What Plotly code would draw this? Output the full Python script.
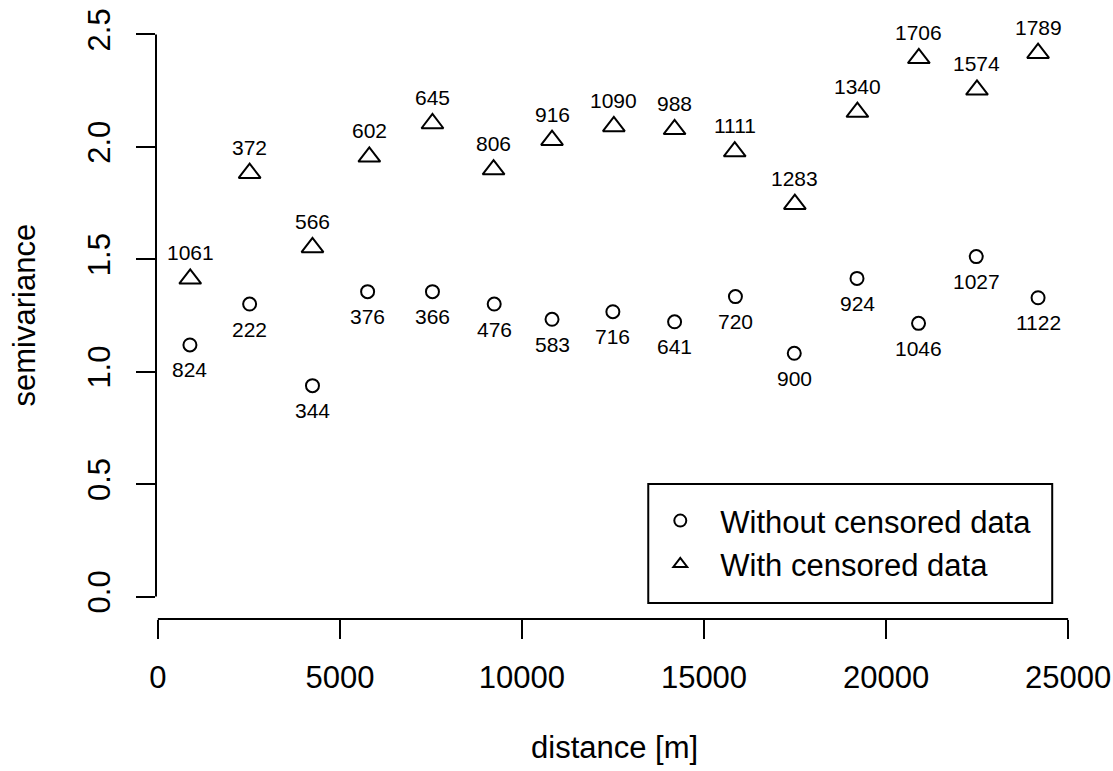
import plotly.graph_objects as go

# Empirical semivariogram: mean lag distance (m), semivariance and number of point pairs per bin
dist_without = [881, 2521, 4247, 5761, 7542, 9238, 10826, 12497, 14192, 15863, 17479, 19202, 20892, 22477, 24175]
gamma_without = [1.119, 1.301, 0.938, 1.356, 1.356, 1.301, 1.233, 1.267, 1.222, 1.334, 1.082, 1.415, 1.215, 1.512, 1.329]
npairs_without = [824, 222, 344, 376, 366, 476, 583, 716, 641, 720, 900, 924, 1046, 1027, 1122]

dist_with = [889, 2521, 4247, 5808, 7542, 9221, 10826, 12524, 14192, 15844, 17495, 19213, 20900, 22497, 24175]
gamma_with = [1.413, 1.883, 1.553, 1.956, 2.104, 1.899, 2.030, 2.091, 2.078, 1.979, 1.745, 2.155, 2.394, 2.254, 2.417]
npairs_with = [1061, 372, 566, 602, 645, 806, 916, 1090, 988, 1111, 1283, 1340, 1706, 1574, 1789]

x_ticks = [0, 5000, 10000, 15000, 20000, 25000]
x_tick_labels = ["0", "5000", "10000", "15000", "20000", "25000"]
y_ticks = [0.0, 0.5, 1.0, 1.5, 2.0, 2.5]
y_tick_labels = ["0.0", "0.5", "1.0", "1.5", "2.0", "2.5"]

FONT = "Liberation Sans, Arial, Helvetica, sans-serif"
BASE = 31
SMALL = 21

# axis limits with a 4 % extension on each side
all_x = dist_without + dist_with
x_lo, x_hi = min(all_x), max(all_x)
x_pad = 0.04 * (x_hi - x_lo)
y_lo, y_hi = y_ticks[0], y_ticks[-1]
y_pad = 0.04 * (y_hi - y_lo)

fig = go.Figure()

fig.add_trace(go.Scatter(
    x=dist_without, y=gamma_without, mode="markers",
    name="Without censored data",
    marker=dict(symbol="circle-open", size=13, color="black", line=dict(width=2, color="black")),
    cliponaxis=False,
))
fig.add_trace(go.Scatter(
    x=dist_with, y=gamma_with, mode="markers",
    name="With censored data",
    marker=dict(symbol="triangle-up-open", size=19, color="black", line=dict(width=2, color="black")),
    cliponaxis=False,
))

annotations = []
for xv, yv, n in zip(dist_without, gamma_without, npairs_without):
    annotations.append(dict(x=xv, y=yv, xref="x", yref="y", text=str(n), showarrow=False,
                            yshift=-25, font=dict(family=FONT, size=SMALL, color="black")))
for xv, yv, n in zip(dist_with, gamma_with, npairs_with):
    annotations.append(dict(x=xv, y=yv, xref="x", yref="y", text=str(n), showarrow=False,
                            yshift=26, font=dict(family=FONT, size=SMALL, color="black")))

# axis titles
annotations.append(dict(x=0.5, y=0, xref="paper", yref="paper", text="distance [m]", showarrow=False,
                        xanchor="center", yanchor="middle", yshift=-128,
                        font=dict(family=FONT, size=BASE, color="black")))
annotations.append(dict(x=0, y=0.5, xref="paper", yref="paper", text="semivariance", showarrow=False,
                        textangle=-90, xanchor="center", yanchor="middle", xshift=-132,
                        font=dict(family=FONT, size=BASE, color="black")))

shapes = [
    # axis lines spanning the first to the last tick
    dict(type="line", xref="x", yref="paper", x0=x_ticks[0], x1=x_ticks[-1], y0=0, y1=0,
         line=dict(color="black", width=2)),
    dict(type="line", xref="paper", yref="y", x0=0, x1=0, y0=y_ticks[0], y1=y_ticks[-1],
         line=dict(color="black", width=2)),
    # legend frame
    dict(type="rect", xref="paper", yref="paper", x0=0.5374, x1=0.9784, y0=0.0264, y1=0.2224,
         line=dict(color="black", width=2), fillcolor="rgba(0,0,0,0)"),
]

axis_common = dict(
    showgrid=False, zeroline=False, showline=False,
    ticks="outside", ticklen=19, tickwidth=2, tickcolor="black",
    tickfont=dict(family=FONT, size=BASE, color="black"),
)

fig.update_layout(
    width=1113, height=771,
    margin=dict(l=156, r=41, t=12, b=152, autoexpand=False),
    paper_bgcolor="white", plot_bgcolor="white",
    xaxis=dict(range=[x_lo - x_pad, x_hi + x_pad], tickvals=x_ticks, ticktext=x_tick_labels,
               ticklabelstandoff=12, **axis_common),
    yaxis=dict(range=[y_lo - y_pad, y_hi + y_pad], tickvals=y_ticks, ticktext=y_tick_labels,
               tickangle=-90, ticklabelstandoff=14, **axis_common),
    showlegend=True,
    legend=dict(x=0.5287, y=0.206, xanchor="left", yanchor="top", bgcolor="rgba(0,0,0,0)",
                borderwidth=0, itemsizing="constant", itemwidth=70,
                font=dict(family=FONT, size=BASE, color="black")),
    annotations=annotations,
    shapes=shapes,
    font=dict(family=FONT, color="black"),
)

fig.write_html("out.html")
